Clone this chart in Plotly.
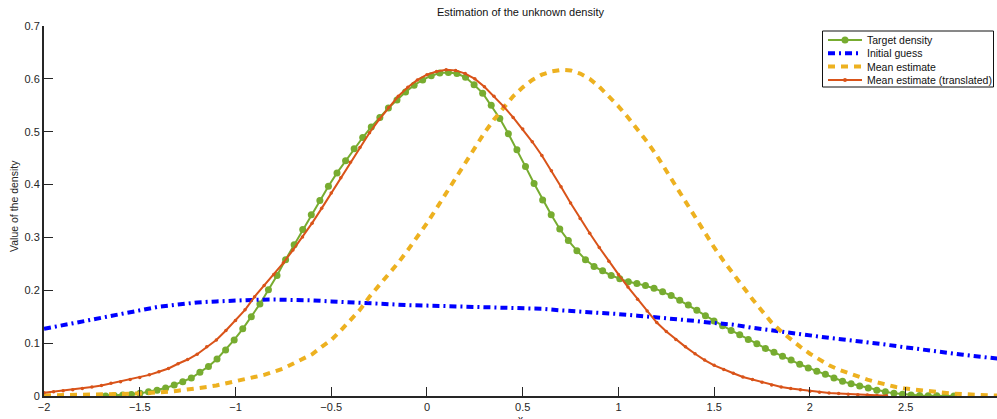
import numpy as np
import plotly.graph_objects as go

# ---------------- data ----------------
# Target density: 100 samples from -1.678 to 2.752
target_x_start, target_x_end, target_n = -1.678, 2.752, 100
target_y = [
    0.000, 0.001, 0.002, 0.003, 0.005, 0.008, 0.011, 0.015, 0.021, 0.027,
    0.034, 0.045, 0.056, 0.070, 0.087, 0.106, 0.127, 0.150, 0.174, 0.201,
    0.228, 0.258, 0.286, 0.315, 0.343, 0.370, 0.397, 0.422, 0.445, 0.468,
    0.489, 0.509, 0.527, 0.545, 0.560, 0.575, 0.588, 0.598, 0.606, 0.611,
    0.612, 0.610, 0.603, 0.589, 0.573, 0.550, 0.525, 0.496, 0.466, 0.434,
    0.402, 0.371, 0.343, 0.316, 0.294, 0.275, 0.258, 0.245, 0.237, 0.228,
    0.222, 0.216, 0.213, 0.209, 0.204, 0.197, 0.190, 0.181, 0.172, 0.162,
    0.152, 0.142, 0.133, 0.124, 0.116, 0.107, 0.099, 0.090, 0.083, 0.075,
    0.068, 0.060, 0.053, 0.047, 0.041, 0.034, 0.028, 0.023, 0.019, 0.015,
    0.011, 0.008, 0.005, 0.0035, 0.002, 0.001, 0.0005, 0.0003, 0.0001, 0.0,
]

# Initial guess: x = -2 .. 3 step 0.1
guess_x = [round(-2 + 0.1 * i, 2) for i in range(51)]
guess_y = [
    0.127, 0.134, 0.142, 0.149, 0.156, 0.163, 0.169, 0.173, 0.177, 0.179,
    0.181, 0.182, 0.1825, 0.182, 0.181, 0.179, 0.177, 0.175, 0.1735, 0.172,
    0.171, 0.170, 0.169, 0.1685, 0.168, 0.1665, 0.165, 0.162, 0.160, 0.157,
    0.155, 0.152, 0.149, 0.146, 0.142, 0.138, 0.135, 0.129, 0.124, 0.119,
    0.115, 0.110, 0.106, 0.102, 0.097, 0.092, 0.087, 0.082, 0.078, 0.074,
    0.070,
]

# Mean estimate: x = -2 .. 3 step 0.05
mean_x = [round(-2 + 0.05 * i, 2) for i in range(101)]
mean_y = [
    0.0010, 0.0012, 0.0014, 0.0017, 0.0020, 0.0023, 0.0027, 0.0031, 0.0036, 0.0042,
    0.0048, 0.0054,
    0.006, 0.008, 0.010, 0.012, 0.014, 0.017, 0.020, 0.024, 0.027, 0.031,
    0.035, 0.040, 0.046, 0.052, 0.061, 0.069, 0.079, 0.093, 0.106, 0.124,
    0.143, 0.163, 0.188, 0.209, 0.230, 0.252, 0.276, 0.301, 0.327, 0.355,
    0.384, 0.413, 0.442, 0.470, 0.498, 0.523, 0.546, 0.567, 0.584, 0.598,
    0.608, 0.614, 0.617, 0.616, 0.610, 0.600,
    0.585, 0.567, 0.548, 0.527, 0.505, 0.481, 0.455, 0.426, 0.396, 0.365,
    0.336, 0.308, 0.281, 0.255, 0.230, 0.206, 0.183, 0.161, 0.139, 0.122,
    0.107, 0.093, 0.080, 0.068, 0.058, 0.050, 0.043, 0.036, 0.031, 0.026,
    0.021, 0.017, 0.014, 0.012, 0.009, 0.007, 0.0056, 0.0045, 0.0035, 0.0026,
    0.0018, 0.0010, 0.0005,
]

# Mean estimate (translated): x = -2 .. 2.4 step 0.05
trans_x = [round(-2 + 0.05 * i, 2) for i in range(89)]
trans_y = [
    0.006, 0.008, 0.010, 0.012, 0.014, 0.017, 0.020, 0.024, 0.027, 0.031,
    0.035, 0.040, 0.046, 0.052, 0.061, 0.069, 0.079, 0.093, 0.106, 0.124,
    0.143, 0.163, 0.188, 0.209, 0.230, 0.252, 0.276, 0.301, 0.327, 0.355,
    0.384, 0.413, 0.442, 0.470, 0.498, 0.523, 0.546, 0.567, 0.584, 0.598,
    0.608, 0.614, 0.617, 0.616, 0.610, 0.600,
    0.585, 0.567, 0.548, 0.527, 0.505, 0.481, 0.455, 0.426, 0.396, 0.365,
    0.336, 0.308, 0.281, 0.255, 0.230, 0.206, 0.183, 0.161, 0.139, 0.122,
    0.107, 0.093, 0.080, 0.068, 0.058, 0.050, 0.043, 0.036, 0.031, 0.026,
    0.021, 0.017, 0.014, 0.012, 0.009, 0.007, 0.0056, 0.0045, 0.0035, 0.0026,
    0.0018, 0.0010, 0.0005,
]

series_names = ["Target density", "Initial guess", "Mean estimate",
                "Mean estimate (translated)"]
x_ticks = [-2, -1.5, -1, -0.5, 0, 0.5, 1, 1.5, 2, 2.5, 3]
y_ticks = [0, 0.1, 0.2, 0.3, 0.4, 0.5, 0.6, 0.7]

target_x = np.linspace(target_x_start, target_x_end, target_n)

# ---------------- styling ----------------
FONT = "Liberation Sans, Arial, Helvetica, sans-serif"
AX = "#262626"
XR = [-2, 2.977]
YR = [0, 0.7]
W, H = 997, 419
ML, MR, MT, MB = 44, 0, 26, 23
PW, PH = W - ML - MR, H - MT - MB

GREEN, BLUE, YELLOW, RED = "#77AC30", "#0000FF", "#EDB120", "#D95319"
BLUE_DASH = "7px,4px,2px,4px"
YELLOW_DASH = "7px,6px"


def px_x(px):
    return (px - ML) / PW


def px_y(py):
    return (H - MB - py) / PH


fig = go.Figure()
fig.add_trace(go.Scatter(
    x=target_x, y=target_y, name=series_names[0], mode="lines+markers",
    line=dict(color=GREEN, width=2),
    marker=dict(color=GREEN, size=7, symbol="circle"),
))
fig.add_trace(go.Scatter(
    x=guess_x, y=guess_y, name=series_names[1], mode="lines",
    line=dict(color=BLUE, width=4, dash=BLUE_DASH),
))
fig.add_trace(go.Scatter(
    x=mean_x, y=mean_y, name=series_names[2], mode="lines",
    line=dict(color=YELLOW, width=4, dash=YELLOW_DASH),
))
fig.add_trace(go.Scatter(
    x=trans_x, y=trans_y, name=series_names[3], mode="lines+markers",
    line=dict(color=RED, width=2),
    marker=dict(color=RED, size=3.5, symbol="circle"),
))

fig.update_layout(
    width=W, height=H,
    margin=dict(l=ML, r=MR, t=MT, b=MB, autoexpand=False),
    paper_bgcolor="white", plot_bgcolor="white",
    font=dict(family=FONT, size=11, color=AX),
    title=dict(text="Estimation of the unknown density", x=0.5, xref="paper",
               y=1 - 12 / H, yanchor="middle", font=dict(size=11, color="#111")),
    showlegend=False,
    xaxis=dict(range=XR, tickvals=x_ticks, showgrid=False, zeroline=False,
               showline=True, linecolor=AX, linewidth=2, automargin=False,
               ticks="inside", ticklen=9, tickcolor=AX, tickwidth=1,
               tickfont=dict(size=11, color=AX)),
    yaxis=dict(range=YR, tickvals=y_ticks, showgrid=False, zeroline=False,
               showline=True, linecolor=AX, linewidth=2, automargin=False,
               ticks="inside", ticklen=9, tickcolor=AX, tickwidth=1,
               tickfont=dict(size=11, color=AX)),
    xaxis2=dict(range=XR, tickvals=x_ticks, overlaying="x", side="top",
                anchor="y", showgrid=False, zeroline=False, showticklabels=False,
                showline=True, linecolor=AX, linewidth=1, automargin=False,
                ticks="inside", ticklen=9, tickcolor=AX, tickwidth=1),
    yaxis2=dict(range=YR, tickvals=y_ticks, overlaying="y", side="right",
                anchor="x", showgrid=False, zeroline=False, showticklabels=False,
                showline=False, automargin=False, ticks="inside", ticklen=9,
                tickcolor="#777", tickwidth=1),
)

# axis labels
fig.add_annotation(text="Value of the density", xref="paper", yref="paper",
                   x=px_x(14), y=px_y(206), textangle=-90, showarrow=False,
                   xanchor="center", yanchor="middle",
                   font=dict(size=10.5, color=AX))
fig.add_annotation(text="x", xref="paper", yref="paper", x=0.5, y=px_y(413),
                   yanchor="top", showarrow=False, borderpad=0,
                   font=dict(size=10, color=AX))

# ---------------- legend (drawn as a boxed key) ----------------
LX0, LX1, LY0, LY1 = 822.5, 993.5, 31, 87
rows = [40, 53.3, 66.6, 79.9]
s0, s1, tx = 828, 862, 865
fig.add_shape(type="rect", xref="paper", yref="paper",
              x0=px_x(LX0), x1=px_x(LX1), y0=px_y(LY1), y1=px_y(LY0),
              line=dict(color="#111", width=1), fillcolor="white", layer="above")
styles = [
    dict(color=GREEN, width=2, dash="solid"),
    dict(color=BLUE, width=4, dash=BLUE_DASH),
    dict(color=YELLOW, width=4, dash=YELLOW_DASH),
    dict(color=RED, width=2, dash="solid"),
]
for name, ry, st in zip(series_names, rows, styles):
    fig.add_shape(type="line", xref="paper", yref="paper",
                  x0=px_x(s0), x1=px_x(s1), y0=px_y(ry), y1=px_y(ry),
                  line=st, layer="above")
    fig.add_annotation(text=name, xref="paper", yref="paper", x=px_x(tx),
                       y=px_y(ry), xanchor="left", yanchor="middle",
                       showarrow=False, font=dict(size=10.5, color="#111"))
# legend marker glyphs
for ry, col, r in [(rows[0], GREEN, 3.5), (rows[3], RED, 2)]:
    fig.add_shape(type="circle", xref="paper", yref="paper",
                  xsizemode="pixel", ysizemode="pixel",
                  xanchor=px_x((s0 + s1) / 2), yanchor=px_y(ry),
                  x0=-r, x1=r, y0=-r, y1=r,
                  line=dict(color=col, width=0), fillcolor=col, layer="above")

fig.write_html("out.html",
               config={"displayModeBar": False},
               post_script="document.body.style.margin='0';"
                           "document.body.style.overflow='hidden';")
